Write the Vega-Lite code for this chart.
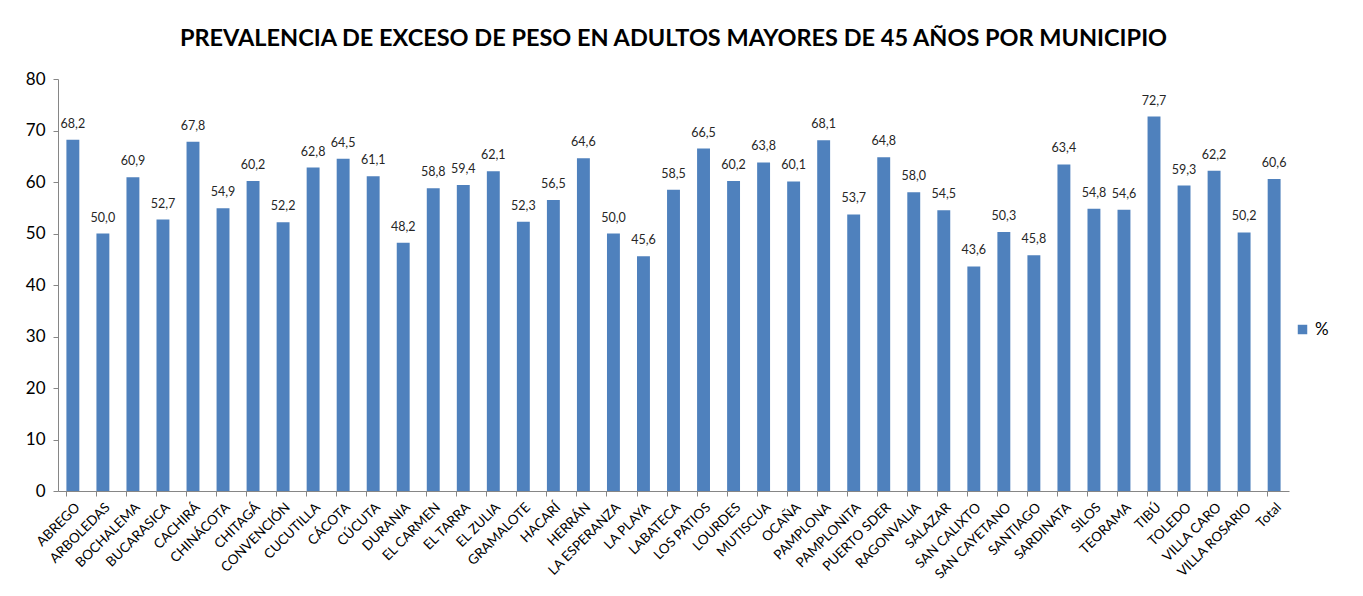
{
  "$schema": "https://vega.github.io/schema/vega-lite/v6.json",
  "width": 1231,
  "height": 412,
  "padding": {"left": 25, "top": 26, "right": 10, "bottom": 5},
  "background": "white",
  "config": {
    "locale": {"number": {"decimal": ",", "thousands": ".", "grouping": [3], "currency": ["", ""]}},
    "view": {"stroke": null},
    "font": "Lato"
  },
  "title": {
    "text": "PREVALENCIA  DE EXCESO DE PESO EN ADULTOS MAYORES DE 45 AÑOS POR MUNICIPIO",
    "font": "Lato",
    "fontSize": 23.5,
    "fontWeight": "bold",
    "color": "#000000",
    "anchor": "middle",
    "offset": 20
  },
  "data": {
    "values": [
      {"municipio": "ABREGO", "valor": 68.2},
      {"municipio": "ARBOLEDAS", "valor": 50.0},
      {"municipio": "BOCHALEMA", "valor": 60.9},
      {"municipio": "BUCARASICA", "valor": 52.7},
      {"municipio": "CACHIRÁ", "valor": 67.8},
      {"municipio": "CHINÁCOTA", "valor": 54.9},
      {"municipio": "CHITAGÁ", "valor": 60.2},
      {"municipio": "CONVENCIÓN", "valor": 52.2},
      {"municipio": "CUCUTILLA", "valor": 62.8},
      {"municipio": "CÁCOTA", "valor": 64.5},
      {"municipio": "CÚCUTA", "valor": 61.1},
      {"municipio": "DURANIA", "valor": 48.2},
      {"municipio": "EL CARMEN", "valor": 58.8},
      {"municipio": "EL TARRA", "valor": 59.4},
      {"municipio": "EL ZULIA", "valor": 62.1},
      {"municipio": "GRAMALOTE", "valor": 52.3},
      {"municipio": "HACARÍ", "valor": 56.5},
      {"municipio": "HERRÁN", "valor": 64.6},
      {"municipio": "LA ESPERANZA", "valor": 50.0},
      {"municipio": "LA PLAYA", "valor": 45.6},
      {"municipio": "LABATECA", "valor": 58.5},
      {"municipio": "LOS PATIOS", "valor": 66.5},
      {"municipio": "LOURDES", "valor": 60.2},
      {"municipio": "MUTISCUA", "valor": 63.8},
      {"municipio": "OCAÑA", "valor": 60.1},
      {"municipio": "PAMPLONA", "valor": 68.1},
      {"municipio": "PAMPLONITA", "valor": 53.7},
      {"municipio": "PUERTO SDER", "valor": 64.8},
      {"municipio": "RAGONVALIA", "valor": 58.0},
      {"municipio": "SALAZAR", "valor": 54.5},
      {"municipio": "SAN CALIXTO", "valor": 43.6},
      {"municipio": "SAN CAYETANO", "valor": 50.3},
      {"municipio": "SANTIAGO", "valor": 45.8},
      {"municipio": "SARDINATA", "valor": 63.4},
      {"municipio": "SILOS", "valor": 54.8},
      {"municipio": "TEORAMA", "valor": 54.6},
      {"municipio": "TIBÚ", "valor": 72.7},
      {"municipio": "TOLEDO", "valor": 59.3},
      {"municipio": "VILLA CARO", "valor": 62.2},
      {"municipio": "VILLA  ROSARIO", "valor": 50.2},
      {"municipio": "Total", "valor": 60.6}
    ]
  },
  "encoding": {
    "x": {
      "field": "municipio",
      "type": "nominal",
      "sort": null,
      "scale": {"paddingInner": 0.57, "paddingOuter": 0.28},
      "axis": {
        "title": null,
        "labelAngle": -45,
        "labelAlign": "right",
        "labelBaseline": "top",
        "labelFont": "Lato",
        "labelFontSize": 13.5,
        "labelColor": "#000000",
        "labelPadding": 4,
        "domainColor": "#868686",
        "tickColor": "#868686",
        "tickSize": 5,
        "bandPosition": 0,
        "labelOverlap": false
      }
    },
    "y": {
      "field": "valor",
      "type": "quantitative",
      "scale": {"domain": [0, 80], "nice": false},
      "axis": {
        "title": null,
        "values": [0, 10, 20, 30, 40, 50, 60, 70, 80],
        "grid": false,
        "labelFont": "Lato",
        "labelFontSize": 17,
        "labelColor": "#000000",
        "labelPadding": 8,
        "domainColor": "#868686",
        "tickColor": "#868686",
        "tickSize": 5
      }
    }
  },
  "layer": [
    {
      "mark": {"type": "bar", "color": "#4F81BD"},
      "encoding": {
        "color": {
          "datum": "%",
          "scale": {"range": ["#4F81BD"]},
          "legend": {
            "title": null,
            "orient": "none",
            "legendX": 1236,
            "legendY": 242,
            "symbolType": "square",
            "symbolSize": 90,
            "labelFont": "Lato",
            "labelFontSize": 17,
            "labelColor": "#000000"
          }
        }
      }
    },
    {
      "mark": {"type": "text", "dy": -9, "baseline": "bottom", "font": "Lato", "fontSize": 12.5, "color": "#262626"},
      "encoding": {
        "text": {"field": "valor", "type": "quantitative", "format": ".1f"}
      }
    }
  ]
}
